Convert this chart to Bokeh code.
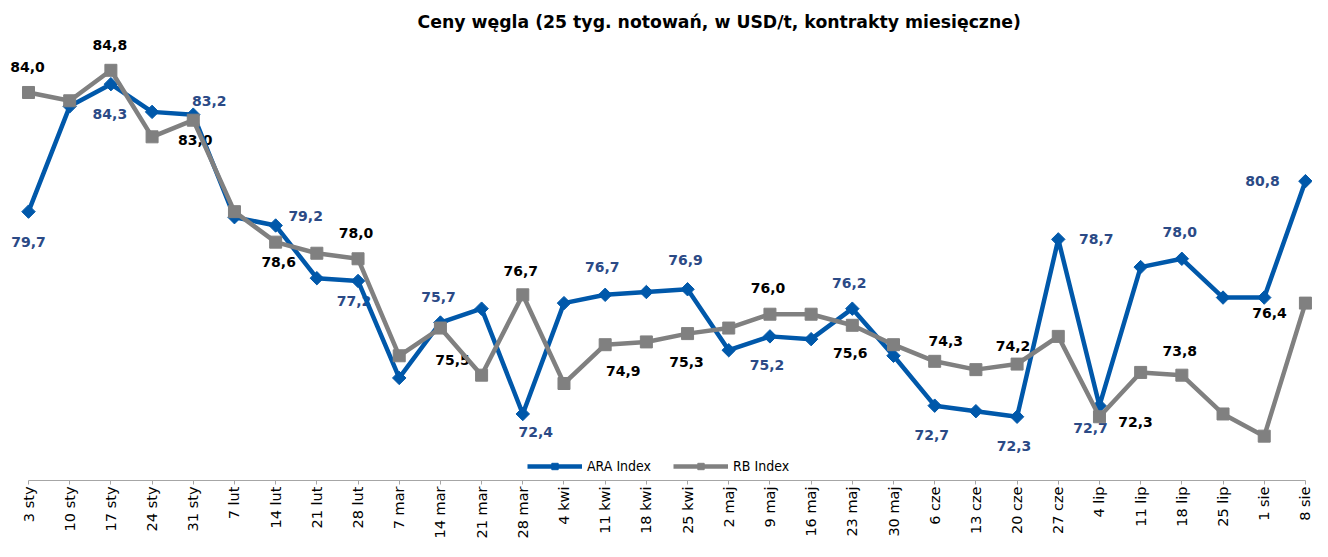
import math
from bokeh.plotting import figure
from bokeh.models import ColumnDataSource, Range1d, FixedTicker, Legend, LegendItem
from bokeh.core.properties import value
from bokeh.embed import file_html
from bokeh.resources import INLINE

# ---- data ----
dates = ["3 sty", "10 sty", "17 sty", "24 sty", "31 sty", "7 lut", "14 lut", "21 lut",
         "28 lut", "7 mar", "14 mar", "21 mar", "28 mar", "4 kwi", "11 kwi", "18 kwi",
         "25 kwi", "2 maj", "9 maj", "16 maj", "23 maj", "30 maj", "6 cze", "13 cze",
         "20 cze", "27 cze", "4 lip", "11 lip", "18 lip", "25 lip", "1 sie", "8 sie"]
ara = [79.7, 83.5, 84.3, 83.3, 83.2, 79.5, 79.2, 77.3, 77.2, 73.7, 75.7, 76.2, 72.4, 76.4,
       76.7, 76.8, 76.9, 74.7, 75.2, 75.1, 76.2, 74.5, 72.7, 72.5, 72.3, 78.7, 72.7, 77.7,
       78.0, 76.6, 76.6, 80.8]
rb = [84.0, 83.7, 84.8, 82.4, 83.0, 79.7, 78.6, 78.2, 78.0, 74.5, 75.5, 73.8, 76.7, 73.5,
      74.9, 75.0, 75.3, 75.5, 76.0, 76.0, 75.6, 74.9, 74.3, 74.0, 74.2, 75.2, 72.3, 73.9,
      73.8, 72.4, 71.6, 76.4]
title = "Ceny węgla (25 tyg. notowań, w USD/t, kontrakty miesięczne)"
series_names = ["ARA Index", "RB Index"]

# ---- label placement (style: pixel offsets from each labelled point) ----
ara_lbl = {0: (0, 30), 2: (-1, 30), 4: (16, -14), 6: (30, -10), 8: (-4, 20), 10: (-2, -26),
           12: (13, 18), 14: (-3, -28), 16: (-2, -29), 18: (-3, 29), 20: (-3, -26),
           22: (-3, 29), 24: (-3, 29), 25: (38, 0), 26: (-9, 22), 28: (-2, -27), 31: (-43, 0)}
rb_lbl = {0: (-1, -25), 2: (-1, -25), 4: (2, 20), 6: (3, 20), 8: (-2, -26), 10: (12, 32),
          12: (-2, -24), 14: (18, 26), 16: (-1, 28), 18: (-2, -26), 20: (-2, 28),
          22: (11, -20), 24: (-4, -18), 26: (36, 5), 28: (-2, -24), 31: (-36, 10)}

BLUE = "#0058AA"
GREY = "#808080"
BLUE_TXT = "#2B4A86"

xs = list(range(len(dates)))

p = figure(width=1312, height=541, output_backend="svg", toolbar_location=None,
           x_range=Range1d(-0.680, 31.172), y_range=Range1d(70.0, 86.2),
           y_axis_location=None, min_border_left=0, min_border_right=0,
           min_border_top=31, min_border_bottom=58)
p.outline_line_color = None
p.grid.visible = False
p.background_fill_color = "white"

p.title.text = title
p.title.align = "left"
p.title.offset = 417
p.title.text_font = "DejaVu Sans"
p.title.text_font_size = "17.3px"
p.title.text_font_style = "bold"
p.title.text_color = "#000000"
p.title.standoff = 0

ax = p.xaxis[0]
ax.ticker = FixedTicker(ticks=xs)
ax.major_label_overrides = {i: d for i, d in zip(xs, dates)}
ax.major_label_orientation = math.pi / 2
ax.major_label_text_font = "DejaVu Sans"
ax.major_label_text_font_size = "14.5px"
ax.major_label_text_color = "#000000"
ax.major_label_standoff = 2
ax.axis_line_color = "#A6A6A6"
ax.major_tick_line_color = "#A6A6A6"
ax.major_tick_in = 0
ax.major_tick_out = 4
ax.minor_tick_line_color = None
ax.bounds = (0, len(dates) - 1)


def label_source(vals, spec):
    idx = sorted(spec)
    return ColumnDataSource(dict(
        x=idx, y=[vals[i] for i in idx],
        text=[f"{vals[i]:.1f}".replace(".", ",") for i in idx],
        dx=[spec[i][0] for i in idx], dy=[spec[i][1] for i in idx]))


for vals, spec, col in [(ara, ara_lbl, BLUE_TXT), (rb, rb_lbl, "#000000")]:
    p.text(x="x", y="y", text="text", x_offset="dx", y_offset="dy",
           source=label_source(vals, spec), text_align="center", text_baseline="middle",
           text_font=value("DejaVu Sans"), text_font_style="bold",
           text_font_size="14px", text_color=col)

src = ColumnDataSource(dict(x=xs, ara=ara, rb=rb))
bl = p.line("x", "ara", source=src, line_color=BLUE, line_width=4.5, line_join="round")
bm = p.scatter("x", "ara", source=src, marker="square", angle=math.pi / 4, size=9.5,
               fill_color=BLUE, line_color=BLUE)
gl = p.line("x", "rb", source=src, line_color=GREY, line_width=4.5, line_join="round")
gm = p.scatter("x", "rb", source=src, marker="square", size=12,
               fill_color=GREY, line_color=GREY)

legend = Legend(items=[LegendItem(label=series_names[0], renderers=[bl, bm]),
                       LegendItem(label=series_names[1], renderers=[gl, gm])],
                orientation="horizontal", location=(527, 6),
                padding=0, margin=0, spacing=22, label_standoff=5,
                glyph_width=55, glyph_height=16, label_height=16,
                label_text_font="DejaVu Sans Condensed", label_text_font_size="14px",
                label_text_color="#000000", border_line_color=None,
                background_fill_alpha=0)
p.add_layout(legend, "center")

open("out.html", "w").write(file_html(p, INLINE))
